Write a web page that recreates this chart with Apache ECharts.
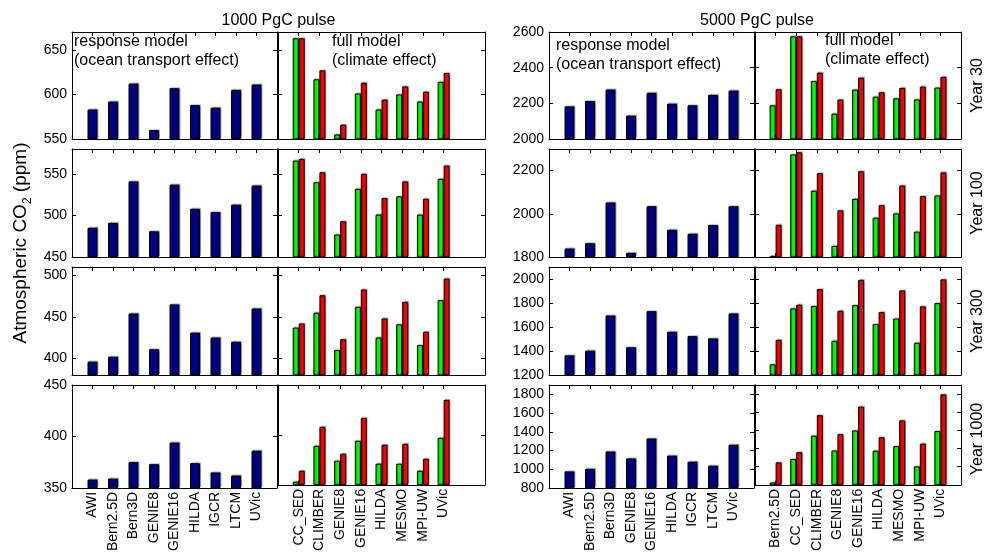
<!DOCTYPE html>
<html>
<head>
<meta charset="utf-8">
<script src="https://cdn.jsdelivr.net/npm/echarts@6/dist/echarts.min.js"></script>
<style>
html,body{margin:0;padding:0;background:#fff;}
#c{width:986px;height:554px;}
</style>
</head>
<body>
<div id="c"></div>
<script>
// ---------------- DATA ----------------
const respModels = ['AWI','Bern2.5D','Bern3D','GENIE8','GENIE16','HILDA','IGCR','LTCM','UVic'];
const full1000Models = ['CC_SED','CLIMBER','GENIE8','GENIE16','HILDA','MESMO','MPI-UW','UVic'];
const full5000Models = ['Bern2.5D','CC_SED','CLIMBER','GENIE8','GENIE16','HILDA','MESMO','MPI-UW','UVic'];
const yearLabels = ['Year 30','Year 100','Year 300','Year 1000'];
const pulseTitles = ['1000 PgC pulse','5000 PgC pulse'];

// 1000 PgC pulse
const resp1000_y30   = [583, 592, 612, 560, 607, 588, 585, 605, 611];
const green1000_y30  = [663, 617, 555, 601, 583, 600, 592, 614];
const red1000_y30    = [663, 627, 566, 613, 594, 609, 603, 624];
const resp1000_y100  = [485, 491, 541, 481, 537, 508, 504, 513, 536];
const green1000_y100 = [566, 540, 477, 532, 501, 523, 501, 544];
const red1000_y100   = [568, 552, 493, 550, 521, 541, 520, 560];
const resp1000_y300  = [396, 402, 454, 411, 465, 431, 425, 420, 460];
const green1000_y300 = [437, 455, 410, 462, 425, 441, 416, 470];
const red1000_y300   = [442, 476, 423, 483, 448, 468, 432, 496];
const resp1000_y1000 = [358, 359, 375, 373, 394, 374, 365, 362, 386];
const green1000_y1000= [353, 389, 374, 394, 371, 371, 364, 397];
const red1000_y1000  = [364, 408, 381, 417, 390, 391, 376, 435];

// 5000 PgC pulse
const resp5000_y30   = [2183, 2213, 2277, 2131, 2258, 2198, 2189, 2247, 2271];
const green5000_y30  = [2189, 2576, 2325, 2142, 2277, 2237, 2228, 2222, 2288];
const red5000_y30    = [2279, 2576, 2372, 2221, 2344, 2262, 2286, 2294, 2348];
const resp5000_y100  = [1839, 1864, 2052, 1819, 2035, 1926, 1907, 1948, 2035];
const green5000_y100 = [1805, 2275, 2107, 1851, 2069, 1982, 2002, 1917, 2085];
const red5000_y100   = [1949, 2285, 2188, 2016, 2197, 2040, 2131, 2082, 2192];
const resp5000_y300  = [1364, 1403, 1696, 1431, 1732, 1560, 1524, 1505, 1713];
const green5000_y300 = [1289, 1755, 1775, 1485, 1783, 1624, 1671, 1468, 1799];
const red5000_y300   = [1493, 1786, 1916, 1735, 1992, 1724, 1905, 1772, 1997];
const resp5000_y1000 = [976, 1003, 1189, 1115, 1328, 1145, 1078, 1037, 1259];
const green5000_y1000= [824, 1084, 1341, 1178, 1399, 1175, 1226, 1003, 1392];
const red5000_y1000  = [1047, 1159, 1567, 1358, 1662, 1324, 1510, 1253, 1797];

// axis ranges and tick labels
const yMin1000 = [550, 450, 380, 350];
const yMax1000 = [670, 580, 510, 450];
const yTicks1000 = [[550,600,650],[450,500,550],[400,450,500],[350,400,450]];
const yMin5000 = [2000, 1800, 1200, 800];
const yMax5000 = [2600, 2300, 2100, 1900];
const yTicks5000 = [[2000,2200,2400,2600],[1800,2000,2200],[1200,1400,1600,1800,2000],[800,1000,1200,1400,1600,1800]];

// ---------------- BUILD ----------------
const FONT = "'Liberation Sans', Arial, Helvetica, sans-serif";
const respAll  = [[resp1000_y30, resp1000_y100, resp1000_y300, resp1000_y1000],
                  [resp5000_y30, resp5000_y100, resp5000_y300, resp5000_y1000]];
const greenAll = [[green1000_y30, green1000_y100, green1000_y300, green1000_y1000],
                  [green5000_y30, green5000_y100, green5000_y300, green5000_y1000]];
const redAll   = [[red1000_y30, red1000_y100, red1000_y300, red1000_y1000],
                  [red5000_y30, red5000_y100, red5000_y300, red5000_y1000]];
const fullModels = [full1000Models, full5000Models];
const yMinAll = [yMin1000, yMin5000];
const yMaxAll = [yMax1000, yMax5000];
const yTicksAll = [yTicks1000, yTicks5000];

const colX = [[72, 278], [549, 755]];
const colW = [[205, 207], [205, 206]];
const rowTop = [32, 149, 267, 385];
const rowH = [107, 108, 108, 108];
const NSLOT = 11;

function padCats(list) {
  const c = [''].concat(list);
  while (c.length < NSLOT) c.push(' '.repeat(c.length));
  return c;
}
function padVals(list) {
  const v = [null].concat(list);
  while (v.length < NSLOT) v.push(null);
  return v;
}
const tickInterval = function (i, v) { return String(v).trim() !== ''; };
const lineStyle = { color: '#000', width: 1 };

const grids = [], xAxes = [], yAxes = [], series = [];
const barShadow = { shadowColor: 'rgba(0,0,0,0.28)', shadowBlur: 1, shadowOffsetX: 1, shadowOffsetY: -1 };

for (let c = 0; c < 2; c++) {
  for (let r = 0; r < 4; r++) {
    for (let h = 0; h < 2; h++) {
      const gi = grids.length;
      grids.push({ left: colX[c][h], top: rowTop[r], width: colW[c][h], height: rowH[r] });
      const cats = padCats(h === 0 ? respModels : fullModels[c]);
      const baseX = {
        type: 'category', gridIndex: gi, data: cats, boundaryGap: false,
        axisLine: { show: true, onZero: false, lineStyle: lineStyle },
        axisTick: { show: true, inside: true, length: 4, interval: tickInterval, lineStyle: lineStyle },
        splitLine: { show: false }
      };
      xAxes.push(Object.assign({}, baseX, {
        position: 'bottom',
        axisLabel: { show: r === 3, interval: 0, rotate: 90, fontSize: 14, color: '#000', margin: 4, fontFamily: FONT }
      }));
      xAxes.push(Object.assign({}, baseX, { position: 'top', axisLabel: { show: false } }));
      const ticks = yTicksAll[c][r];
      const baseY = {
        type: 'value', gridIndex: gi, min: yMinAll[c][r], max: yMaxAll[c][r],
        axisLine: { show: true, onZero: false, lineStyle: lineStyle },
        axisTick: { show: true, inside: true, length: 4, customValues: ticks, lineStyle: lineStyle },
        splitLine: { show: false }
      };
      yAxes.push(Object.assign({}, baseY, {
        position: 'left',
        axisLabel: {
          show: h === 0, customValues: ticks, fontSize: 14, color: '#000', margin: 5, fontFamily: FONT,
          formatter: function (v) { return String(Math.round(v)); }
        }
      }));
      yAxes.push(Object.assign({}, baseY, { position: 'right', axisLabel: { show: false } }));

      if (h === 0) {
        series.push({
          type: 'bar', xAxisIndex: 2 * gi, yAxisIndex: 2 * gi, barWidth: 10,
          data: padVals(respAll[c][r]),
          itemStyle: Object.assign({ color: '#000080', borderColor: '#000', borderWidth: 1 }, barShadow),
          clip: true
        });
      } else {
        series.push({
          type: 'bar', xAxisIndex: 2 * gi, yAxisIndex: 2 * gi, barWidth: 6, barGap: '0%',
          data: padVals(greenAll[c][r]),
          itemStyle: Object.assign({ color: '#00ff00', borderColor: '#000', borderWidth: 1 }, barShadow),
          clip: true
        });
        series.push({
          type: 'bar', xAxisIndex: 2 * gi, yAxisIndex: 2 * gi, barWidth: 6, barGap: '0%',
          data: padVals(redAll[c][r]),
          itemStyle: Object.assign({ color: '#ff0000', borderColor: '#000', borderWidth: 1 }, barShadow),
          clip: true
        });
      }
    }
  }
}

function txt(x, y, s, opts) {
  return {
    type: 'text', x: x, y: y, z: 100,
    style: Object.assign({ text: s, font: '16px ' + FONT, fill: '#000', textAlign: 'left', textVerticalAlign: 'middle' }, opts || {})
  };
}

const graphics = [
  txt(278.5, 21, pulseTitles[0], { textAlign: 'center' }),
  txt(757, 21, pulseTitles[1], { textAlign: 'center' }),
  txt(74, 42, 'response model'),
  txt(74, 61, '(ocean transport effect)'),
  txt(332, 42, 'full model'),
  txt(332, 61, '(climate effect)'),
  txt(556, 46, 'response model'),
  txt(556, 65, '(ocean transport effect)'),
  txt(825, 41, 'full model'),
  txt(825, 60, '(climate effect)')
];
for (let r = 0; r < 4; r++) {
  const t = txt(978, rowTop[r] + rowH[r] / 2, yearLabels[r], { textAlign: 'center' });
  t.rotation = Math.PI / 2;
  graphics.push(t);
}
graphics.push({
  type: 'text', x: 21, y: 243, z: 100, rotation: Math.PI / 2,
  style: {
    text: '{a|Atmospheric CO}{b|2}{a| (ppm)}',
    textAlign: 'center', textVerticalAlign: 'middle', fill: '#000',
    rich: {
      a: { fontSize: 19, fontFamily: FONT, lineHeight: 26, fill: '#000', verticalAlign: 'middle' },
      b: { fontSize: 12, fontFamily: FONT, fill: '#000', verticalAlign: 'bottom' }
    }
  }
});

const chart = echarts.init(document.getElementById('c'));
chart.setOption({
  animation: false,
  backgroundColor: '#fff',
  textStyle: { fontFamily: FONT },
  grid: grids,
  xAxis: xAxes,
  yAxis: yAxes,
  series: series,
  graphic: graphics
});
</script>
</body>
</html>
